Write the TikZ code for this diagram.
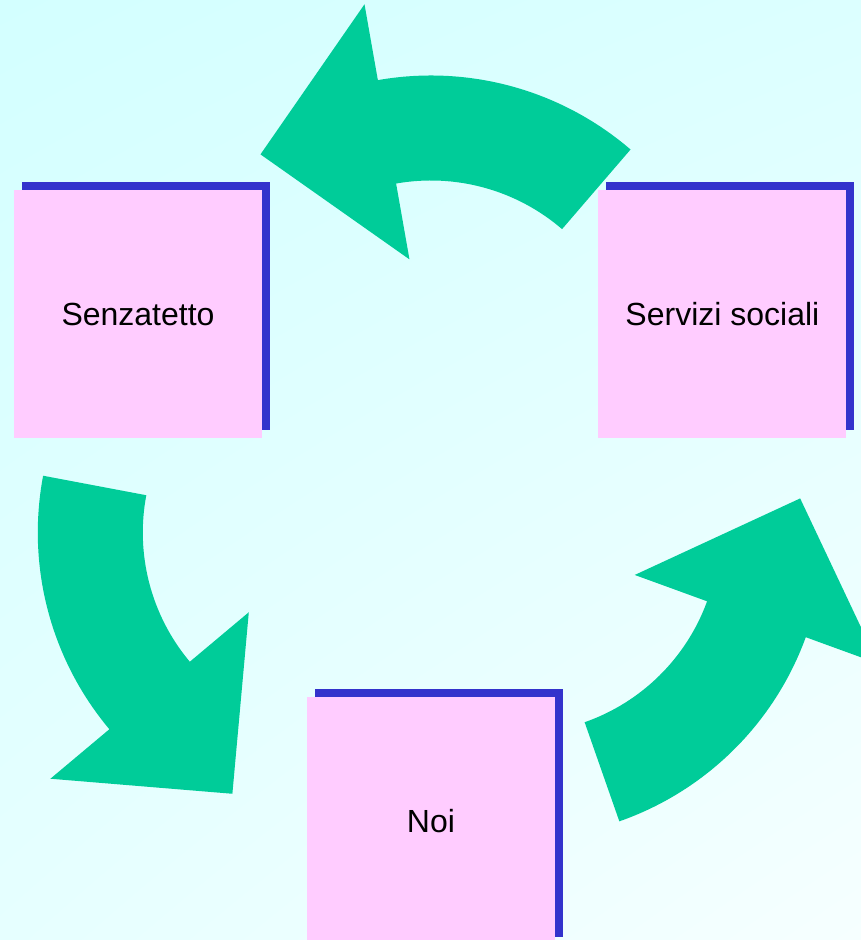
\documentclass[tikz,border=0pt]{standalone}
\usepackage{xcolor}
\usepackage{fontspec}
\setmainfont{Liberation Sans}
\usepackage{tikz}
\usetikzlibrary{positioning,shadows,shadings}

\definecolor{bgtl}{HTML}{D3FFFF}
\definecolor{bgtr}{HTML}{DCFFFF}
\definecolor{bgbl}{HTML}{E6FFFF}
\definecolor{bgbr}{HTML}{F6FFFF}
\definecolor{boxpink}{HTML}{FFCCFF}
\definecolor{shadowblue}{HTML}{3333CC}
\definecolor{arrowgreen}{HTML}{00CC99}

% one bent arrow, drawn round its own centre
\newcommand{\greenarrow}{%
    \fill[bent] (49.3:306) arc[start angle=49.3, end angle=100, radius=306pt]
        -- (100:383) -- (126.9:284) -- (100:124) -- (100:201)
        arc[start angle=100, end angle=49.3, radius=201pt] -- cycle;}

\begin{document}
\begin{tikzpicture}[x=1pt, y=1pt,
    box/.style={rectangle, fill=boxpink, minimum width=248pt, minimum height=248pt,
        inner sep=0pt, font=\fontsize{32}{38}\selectfont,
        general shadow={fill=shadowblue, shadow xshift=8pt, shadow yshift=8pt}},
    bent/.style={fill=arrowgreen}]

    \clip (0,0) rectangle (861,940);
    \shade[upper left=bgtl, upper right=bgtr, lower left=bgbl, lower right=bgbr]
        (0,0) rectangle (861,940);

    \coordinate (hub) at (431,457.8);

    % boxes
    \node[box] (senza) at (138,625.5) {Senzatetto};
    \node[box, right=336pt of senza] (servizi) {Servizi sociali};
    \node[box] (noi) at (431,119) {Noi};

    % arrows
    \begin{scope}[shift={(431,558.5)}]
        \greenarrow
    \end{scope}
    \begin{scope}[rotate around={120:(hub)}, shift={(431,558.5)}]
        \greenarrow
    \end{scope}
    \begin{scope}[rotate around={240:(hub)}, shift={(431,558.5)}]
        \greenarrow
    \end{scope}
\end{tikzpicture}
\end{document}
